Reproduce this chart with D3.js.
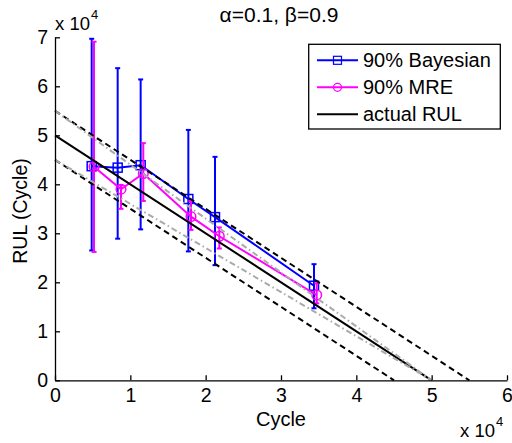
<!DOCTYPE html>
<html><head><meta charset="utf-8">
<script src="https://cdn.jsdelivr.net/npm/d3@7"></script>
<style>
body{margin:0;background:#fff}
svg text{font-family:"Liberation Sans",Arial,Helvetica,sans-serif;fill:#000}
</style>
</head><body>
<svg id="c" width="512" height="443"></svg>
<script>
// values in units of 10^4 cycles
const bayesX  = [0.487, 0.832, 1.137, 1.770, 2.124, 3.438];
const bayesY  = [4.37, 4.34, 4.39, 3.70, 3.33, 1.93];
const bayesUp = [6.97, 6.37, 6.14, 5.11, 4.56, 2.37];
const bayesLo = [2.65, 2.89, 3.08, 2.63, 2.35, 1.47];

const mreX  = [0.518, 0.876, 1.172, 1.805, 2.181, 3.474];
const mreY  = [4.36, 3.90, 4.22, 3.34, 2.94, 1.74];
const mreUp = [6.91, 3.98, 4.84, 3.66, 3.12, 1.98];
const mreLo = [2.62, 3.50, 3.66, 3.07, 2.69, 1.57];

const actualRUL   = [[0, 5.0], [5.0, 0]];
const alphaUpper  = [[0, 5.5], [5.5, 0]];
const alphaLower  = [[0, 4.5], [4.5, 0]];
const coneUpper   = [[0, 5.5], [5.0, 0]];
const coneLower   = [[0, 4.5], [5.0, 0]];

const xTicks = [0, 1, 2, 3, 4, 5, 6];
const yTicks = [0, 1, 2, 3, 4, 5, 6, 7];
const legendLabels = ["90% Bayesian", "90% MRE", "actual RUL"];
const titleText = "\u03B1=0.1, \u03B2=0.9";

const svg = d3.select("#c");
const x = d3.scaleLinear().domain([0, 6]).range([55, 507]);
const y = d3.scaleLinear().domain([0, 7]).range([380.3, 37.3]);

const line = d3.line().x(d => x(d[0])).y(d => y(d[1]));

function series(xs, ys, up, lo, color, marker) {
  const g = svg.append("g");
  const pts = xs.map((v, i) => [v, ys[i]]);
  g.append("path").attr("d", line(pts)).attr("fill", "none")
    .attr("stroke", color).attr("stroke-width", 2);
  xs.forEach((v, i) => {
    const cx = x(v);
    g.append("line").attr("x1", cx).attr("x2", cx).attr("y1", y(up[i])).attr("y2", y(lo[i]))
      .attr("stroke", color).attr("stroke-width", 2);
    [up[i], lo[i]].forEach(e => {
      g.append("line").attr("x1", cx - 2.5).attr("x2", cx + 2.5).attr("y1", y(e)).attr("y2", y(e))
        .attr("stroke", color).attr("stroke-width", 2);
    });
    drawMarker(g, cx, y(ys[i]), color, marker);
  });
}
function drawMarker(g, cx, cy, color, marker) {
  if (marker === "square") {
    g.append("rect").attr("x", cx - 4.5).attr("y", cy - 4.5).attr("width", 9).attr("height", 9)
      .attr("fill", "none").attr("stroke", color).attr("stroke-width", 1.5);
  } else {
    g.append("circle").attr("cx", cx).attr("cy", cy).attr("r", 4.8)
      .attr("fill", "none").attr("stroke", color).attr("stroke-width", 1.5);
  }
}

series(bayesX, bayesY, bayesUp, bayesLo, "#0000ff", "square");
series(mreX, mreY, mreUp, mreLo, "#ff00ff", "circle");

svg.append("path").attr("d", line(actualRUL)).attr("stroke", "#000").attr("stroke-width", 2).attr("fill", "none");
[alphaUpper, alphaLower].forEach(l => svg.append("path").attr("d", line(l)).attr("stroke", "#000")
  .attr("stroke-width", 2).attr("fill", "none").attr("stroke-dasharray", "6,4"));
[coneUpper, coneLower].forEach(l => svg.append("path").attr("d", line(l)).attr("stroke", "#aaaaaa")
  .attr("stroke-width", 2).attr("fill", "none").attr("stroke-dasharray", "6,3,1.5,3"));

// axes
const xAxis = d3.axisBottom(x).tickValues(xTicks).tickFormat(d3.format("d")).tickSizeInner(-5).tickSizeOuter(0).tickPadding(8);
const yAxis = d3.axisLeft(y).tickValues(yTicks).tickFormat(d3.format("d")).tickSizeInner(-5).tickSizeOuter(0).tickPadding(7);
const gx = svg.append("g").attr("transform", `translate(0,${y(0)})`).call(xAxis);
const gy = svg.append("g").attr("transform", `translate(${x(0)},0)`).call(yAxis);
[gx, gy].forEach(g => {
  g.selectAll("path,line").attr("stroke", "#000").attr("stroke-width", 1.3);
  g.selectAll("text").attr("font-size", 19.5).attr("font-family", "Liberation Sans, Arial, sans-serif").attr("fill", "#000");
});
gx.selectAll("text").attr("dy", "0.72em");

// exponent labels
function expLabel(px, py) {
  const t = svg.append("text").attr("x", px).attr("y", py).attr("font-size", 18.5);
  t.append("tspan").text("x 10");
  t.append("tspan").attr("font-size", 13).attr("dy", -11).attr("dx", 1).text("4");
}
expLabel(55, 30);
expLabel(460, 436.5);

// title and axis labels
svg.append("text").attr("x", 279).attr("y", 22).attr("text-anchor", "middle").attr("font-size", 21).text(titleText);
svg.append("text").attr("x", 281).attr("y", 426).attr("text-anchor", "middle").attr("font-size", 20).text("Cycle");
svg.append("text").attr("transform", "translate(27,211) rotate(-90)").attr("text-anchor", "middle")
  .attr("font-size", 19.5).text("RUL (Cycle)");

// legend
const lg = svg.append("g");
lg.append("rect").attr("x", 308.7).attr("y", 44.3).attr("width", 191.6).attr("height", 84.7)
  .attr("fill", "#fff").attr("stroke", "#000").attr("stroke-width", 1.3);
const legendColors = ["#0000ff", "#ff00ff", "#000"];
const legendMarkers = ["square", "circle", null];
legendLabels.forEach((lab, i) => {
  const ly = 60.3 + i * 27;
  lg.append("line").attr("x1", 317).attr("x2", 358).attr("y1", ly).attr("y2", ly)
    .attr("stroke", legendColors[i]).attr("stroke-width", 2);
  if (legendMarkers[i] === "square") {
    lg.append("rect").attr("x", 337.5 - 4).attr("y", ly - 4).attr("width", 8).attr("height", 8)
      .attr("fill", "none").attr("stroke", legendColors[i]).attr("stroke-width", 1.2);
  } else if (legendMarkers[i] === "circle") {
    lg.append("circle").attr("cx", 337.5).attr("cy", ly).attr("r", 4)
      .attr("fill", "none").attr("stroke", legendColors[i]).attr("stroke-width", 1.2);
  }
  lg.append("text").attr("x", 363).attr("y", ly + 7).attr("font-size", 20).text(lab);
});
</script>
</body></html>
